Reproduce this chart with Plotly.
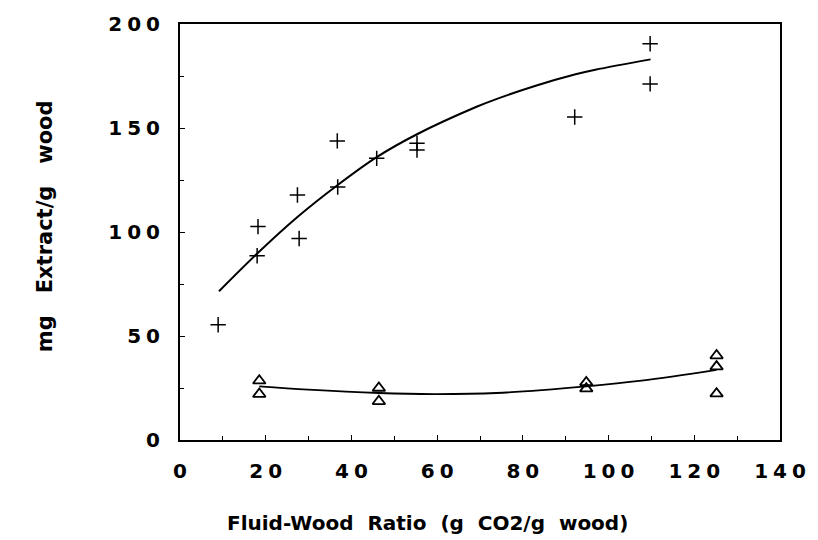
import plotly.graph_objects as go

# Data
plus_x = [8.9, 18.0, 18.2, 27.4, 27.8, 36.7, 36.8, 45.9, 55.3, 55.3, 92.1, 109.7, 109.7]
plus_y = [55.4, 88.6, 102.6, 117.8, 96.9, 143.8, 121.6, 135.4, 142.7, 139.4, 155.3, 190.5, 171.2]

tri_x = [18.5, 18.5, 46.4, 46.4, 94.8, 94.8, 125.2, 125.2, 125.2]
tri_y = [28.5, 22.1, 25.0, 18.6, 27.7, 24.7, 40.6, 35.3, 22.3]

upper_fit_x = [9.1, 18.2, 27.4, 36.8, 45.9, 55.3, 69.2, 73.8, 83.0, 92.3, 96.9, 109.8]
upper_fit_y = [71.5, 90.0, 107.2, 122.6, 136.0, 147.0, 160.2, 163.9, 170.3, 175.8, 178.0, 183.0]

lower_fit_x = [18.5, 29.9, 46.4, 59.2, 73.8, 94.8, 107.7, 125.2]
lower_fit_y = [25.8, 24.2, 22.6, 22.1, 22.6, 25.8, 28.5, 33.7]

x_ticks = [0, 20, 40, 60, 80, 100, 120, 140]
y_ticks = [0, 50, 100, 150, 200]

SP = "\u2005"  # letter spacing used in the reference's tick labels
x_tick_text = [SP.join(str(v)) for v in x_ticks]
y_tick_text = [SP.join(str(v)) for v in y_ticks]

x_title = "Fluid-Wood  Ratio  (g  CO2/g  wood)"
y_title = "mg   Extract/g   wood"

tick_font = dict(family="DejaVu Sans", size=20, color="black", weight="bold")

fig = go.Figure()
fig.add_trace(go.Scatter(x=upper_fit_x, y=upper_fit_y, mode="lines",
                         line=dict(color="black", width=2, shape="spline", smoothing=1.0),
                         hoverinfo="skip"))
fig.add_trace(go.Scatter(x=lower_fit_x, y=lower_fit_y, mode="lines",
                         line=dict(color="black", width=1.8, shape="spline", smoothing=1.0),
                         hoverinfo="skip"))
fig.add_trace(go.Scatter(x=plus_x, y=plus_y, mode="markers",
                         marker=dict(symbol="cross-thin", size=11, color="black",
                                     line=dict(color="black", width=1.5))))
fig.add_trace(go.Scatter(x=tri_x, y=tri_y, mode="markers",
                         marker=dict(symbol="triangle-up-open", size=11, color="black",
                                     line=dict(color="black", width=1.8))))

fig.update_layout(
    width=818, height=540,
    margin=dict(l=180, r=31, t=19, b=100),
    paper_bgcolor="white", plot_bgcolor="white",
    showlegend=False,
    font=tick_font,
    annotations=[
        dict(text=x_title, xref="paper", yref="paper",
             x=(430 - 180) / 607, y=-(524 - 440) / 421,
             xanchor="center", yanchor="middle", showarrow=False,
             font=dict(family="DejaVu Sans", size=20, color="black", weight="bold")),
        dict(text=y_title, xref="paper", yref="paper",
             x=-(180 - 43) / 607, y=(440 - 224) / 421, textangle=-90,
             xanchor="center", yanchor="middle", showarrow=False,
             font=dict(family="DejaVu Sans", size=21, color="black", weight="bold")),
    ],
)
fig.update_xaxes(
    range=[0, 140], tickvals=x_ticks, ticktext=x_tick_text,
    showgrid=False, zeroline=False,
    showline=True, linecolor="black", linewidth=2, mirror=True,
    ticks="inside", ticklen=5, tickwidth=1, tickcolor="black",
    minor=dict(dtick=10, ticks="inside", ticklen=4, tickwidth=1, tickcolor="black"),
    tickfont=tick_font, ticklabelstandoff=12,
)
fig.update_yaxes(
    range=[0, 200], tickvals=y_ticks, ticktext=y_tick_text,
    showgrid=False, zeroline=False,
    showline=True, linecolor="black", linewidth=2, mirror=True,
    ticks="inside", ticklen=5, tickwidth=1, tickcolor="black",
    minor=dict(dtick=25, ticks="inside", ticklen=4, tickwidth=1, tickcolor="black"),
    tickfont=tick_font, ticklabelstandoff=14,
)

fig.write_html("out.html")
